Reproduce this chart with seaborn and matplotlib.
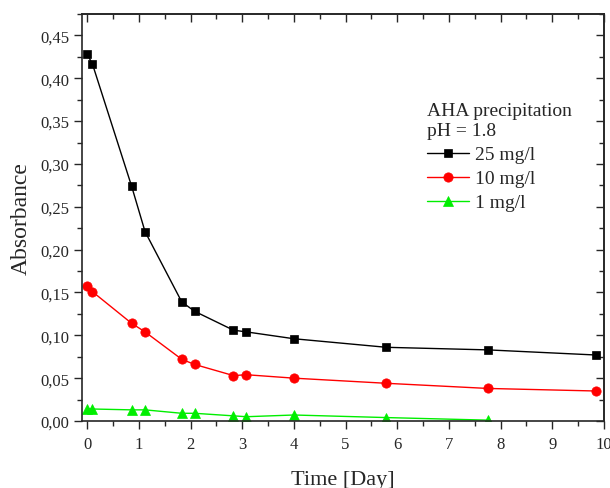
import matplotlib
matplotlib.use("Agg")
import matplotlib.pyplot as plt
import seaborn as sns
import numpy as np
from matplotlib.ticker import MultipleLocator, FuncFormatter

# ---- data ----
time_25 = [0.0, 0.1, 0.86, 1.12, 1.83, 2.08, 2.83, 3.08, 4.0, 5.79, 7.75, 9.85]
abs_25 = [0.428, 0.417, 0.274, 0.221, 0.139, 0.128, 0.106, 0.104, 0.096, 0.086, 0.083, 0.077]
time_10 = [0.0, 0.1, 0.86, 1.12, 1.83, 2.08, 2.83, 3.08, 4.0, 5.79, 7.75, 9.85]
abs_10 = [0.157, 0.151, 0.114, 0.104, 0.072, 0.066, 0.053, 0.054, 0.050, 0.044, 0.038, 0.035]
time_1 = [0.0, 0.1, 0.86, 1.12, 1.83, 2.08, 2.83, 3.08, 4.0, 5.79, 7.75]
abs_1 = [0.014, 0.014, 0.013, 0.013, 0.009, 0.009, 0.006, 0.005, 0.007, 0.004, 0.001]
labels = ["25 mg/l", "10 mg/l", "1 mg/l"]
legend_title = "AHA precipitation\npH = 1.8"
x_label = "Time [Day]"
y_label = "Absorbance"

sns.set_style("ticks")
plt.rcParams['font.family'] = ['Liberation Serif', 'DejaVu Serif']

fig = plt.figure(figsize=(6.1, 4.89), dpi=100)
ax = fig.add_axes([82/610, 1-422/489, (604-82)/610, (422-15)/489])

series = [
    (time_25, abs_25, 's', 'black', 6.0, False),
    (time_10, abs_10, 'o', '#ff0000', 6.7, False),
    (time_1, abs_1, '^', '#00ee00', 7.2, True),
]
for (x, y, m, c, ms, clip), lab in zip(series, labels):
    sns.lineplot(x=x, y=y, marker=m, color=c, markersize=ms, linewidth=1.0,
                 markeredgecolor=c, markeredgewidth=0.5, label=lab, ax=ax,
                 sort=False, clip_on=clip)

ax.set_xlim(-0.1, 10)
ax.set_ylim(0, 0.475)
ax.xaxis.set_major_locator(MultipleLocator(1))
ax.xaxis.set_minor_locator(MultipleLocator(0.5))
ax.yaxis.set_major_locator(MultipleLocator(0.05))
ax.yaxis.set_minor_locator(MultipleLocator(0.025))
ax.yaxis.set_major_formatter(FuncFormatter(lambda v, p: f"{v:.2f}".replace('.', ',')))
ax.tick_params(which='major', direction='out', length=6, width=1, labelsize=12, pad=3)
ax.tick_params(axis='x', which='major', pad=5)
ax.tick_params(which='minor', direction='out', length=3.5, width=1)
for s in ax.spines.values():
    s.set_linewidth(1.2)

secx = ax.secondary_xaxis('top')
secx.xaxis.set_major_locator(MultipleLocator(1))
secx.xaxis.set_minor_locator(MultipleLocator(0.5))
secx.tick_params(which='major', direction='in', length=6, width=1, labeltop=False)
secx.tick_params(which='minor', direction='in', length=3.5, width=1)
secy = ax.secondary_yaxis('right')
secy.yaxis.set_major_locator(MultipleLocator(0.05))
secy.yaxis.set_minor_locator(MultipleLocator(0.025))
secy.tick_params(which='major', direction='in', length=6, width=1, labelright=False)
secy.tick_params(which='minor', direction='in', length=3.5, width=1)
for sa in (secx, secy):
    for s in sa.spines.values():
        s.set_linewidth(1.2)

ax.set_xlabel(x_label, fontsize=16, labelpad=13)
ax.set_ylabel(y_label, fontsize=17, labelpad=6)

leg = ax.legend(title=legend_title, frameon=False, fontsize=14, title_fontsize=14,
                loc='upper left', bbox_to_anchor=(0.661, 0.785), handlelength=2.15,
                handletextpad=0.3, labelspacing=0.33, borderaxespad=0, borderpad=0)
leg._legend_box.align = "left"
leg.get_title().set_linespacing(1.3)

fig.savefig("out.png", dpi=100)
